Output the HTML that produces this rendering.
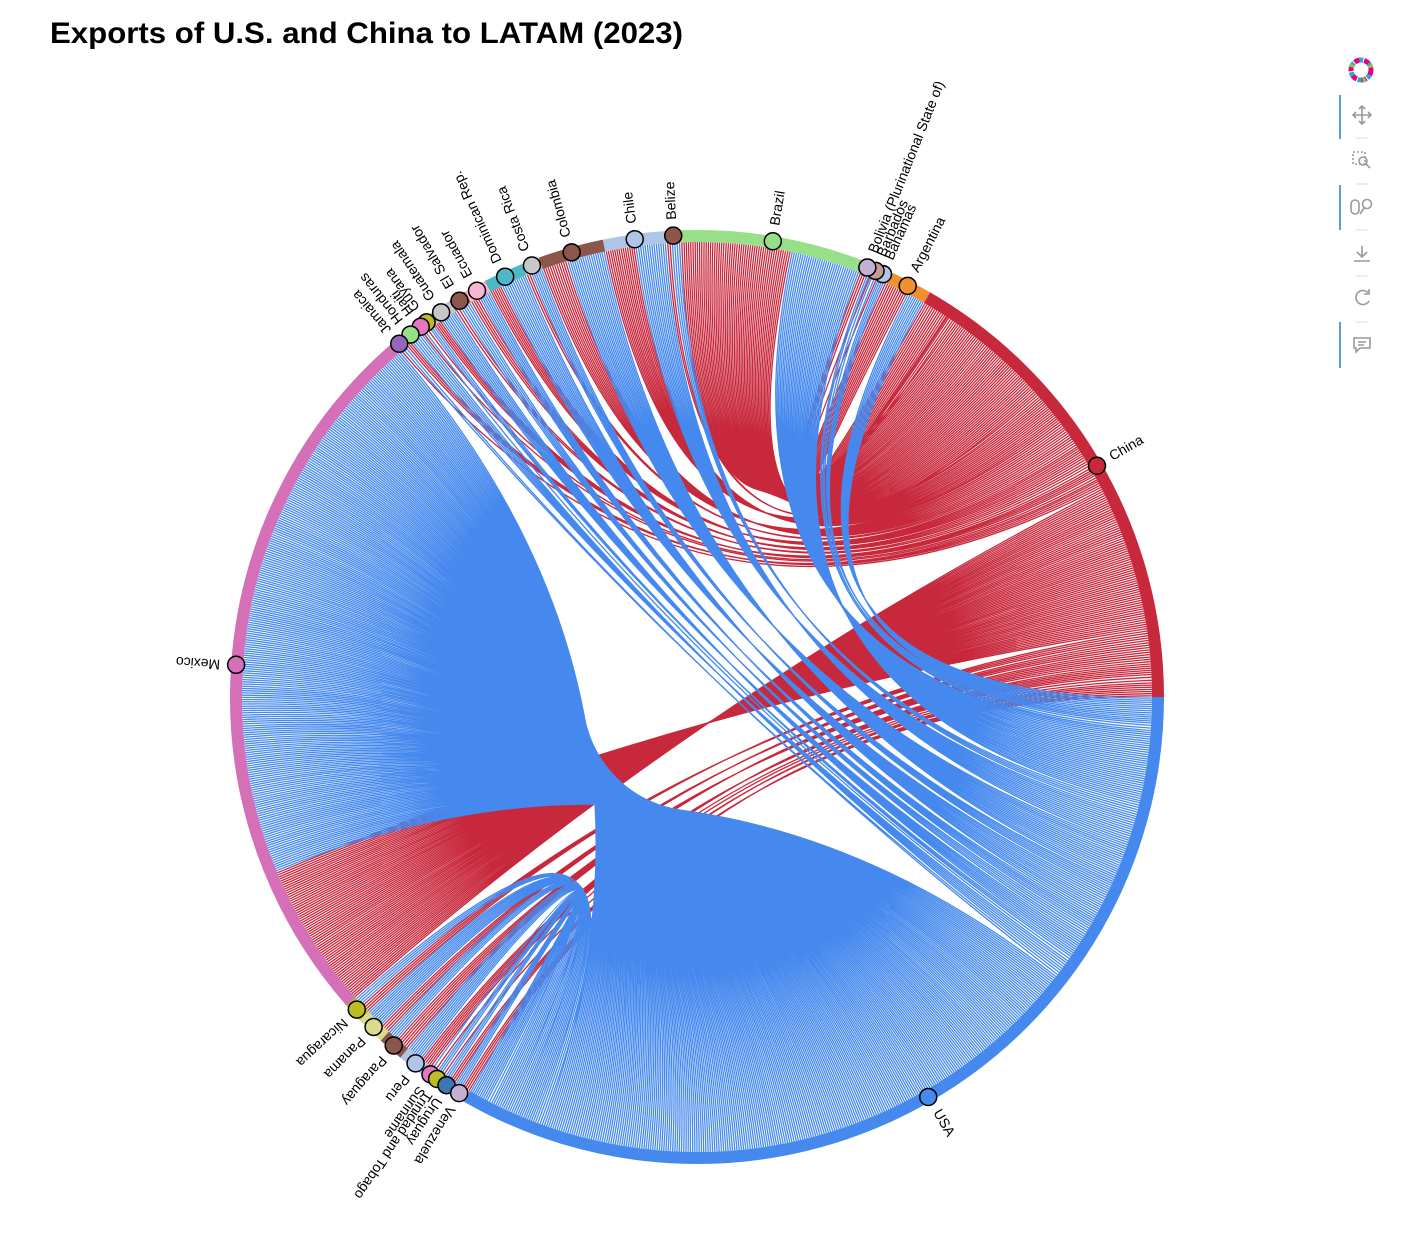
<!DOCTYPE html>
<html><head><meta charset="utf-8"><style>
body{margin:0;background:#fff;}
svg text{font-family:"Liberation Sans",sans-serif;}
</style></head><body>
<svg id="chart" width="1420" height="1232" viewBox="0 0 1420 1232" xmlns="http://www.w3.org/2000/svg">
<text x="50" y="43" font-size="30" font-weight="bold" fill="#000" textLength="633" lengthAdjust="spacingAndGlyphs">Exports of U.S. and China to LATAM (2023)</text>
<g id="edges"></g>
<g id="ring"></g>
<g id="nodes"></g>
<g id="labels"></g>
<g>
 <g>
  <circle cx="1361" cy="70" r="10" fill="none" stroke="#e6007e" stroke-width="5" stroke-dasharray="6 4"/>
  <circle cx="1361" cy="70" r="10" fill="none" stroke="#2ea3e0" stroke-width="5" stroke-dasharray="4 6" stroke-dashoffset="5"/>
  <circle cx="1361" cy="70" r="10" fill="none" stroke="#8ec63f" stroke-width="5" stroke-dasharray="3 20" stroke-dashoffset="12"/>
 </g>
 <rect x="1339" y="95" width="2" height="44" fill="#5a9fd4"/>
 <g stroke="#999" stroke-width="1.6" fill="none"><path d="M1362 106v18M1353 115h18M1359 109l3-3 3 3M1359 121l3 3 3-3M1356 112l-3 3 3 3M1368 112l3 3-3 3"/></g>
 <line x1="1356" y1="138" x2="1368" y2="138" stroke="#ddd"/>
 <g stroke="#999" stroke-width="1.6" fill="none"><rect x="1353" y="152" width="12" height="12" stroke-dasharray="2 2"/><circle cx="1363" cy="161" r="4"/><path d="M1366 164l4 4"/></g>
 <line x1="1356" y1="184" x2="1368" y2="184" stroke="#ddd"/>
 <rect x="1339" y="185" width="2" height="45" fill="#5a9fd4"/>
 <g stroke="#999" stroke-width="1.6" fill="none"><rect x="1351" y="200" width="8" height="14" rx="4"/><circle cx="1367" cy="204" r="4.5"/><path d="M1364 208l-4 6"/></g>
 <line x1="1356" y1="230" x2="1368" y2="230" stroke="#ddd"/>
 <g stroke="#999" stroke-width="1.6" fill="none"><path d="M1362 246v11M1357 252l5 5 5-5M1354 261h16"/></g>
 <line x1="1356" y1="276" x2="1368" y2="276" stroke="#ddd"/>
 <g stroke="#999" stroke-width="1.6" fill="none"><path d="M1369 294a7 7 0 1 0 0 7M1369 289v5h-5"/></g>
 <line x1="1356" y1="322" x2="1368" y2="322" stroke="#ddd"/>
 <rect x="1339" y="322" width="2" height="46" fill="#5a9fd4"/>
 <g stroke="#999" stroke-width="1.6" fill="none"><path d="M1354 338h16v10h-10l-4 4v-4h-2z"/><path d="M1358 342h8M1358 345h6"/></g>
</g>
</svg>
<script>
const countries=["Argentina","Bahamas","Barbados","Bolivia (Plurinational State of)","Brazil","Belize","Chile","Colombia","Costa Rica","Dominican Rep.","Ecuador","El Salvador","Guatemala","Guyana","Haiti","Honduras","Jamaica","Mexico","Nicaragua","Panama","Paraguay","Peru","Suriname","Trinidad and Tobago","Uruguay","Venezuela"];
const usExports=[2.4,1.0,0.7,0.5,9.0,1.2,4.0,5.0,1.6,3.4,1.6,1.5,2.2,0.8,0.4,1.8,0.7,72.0,1.2,2.4,1.4,2.2,0.4,0.8,0.8,1.0];
const chinaExports=[3.2,0.2,0.1,0.9,14.0,0.6,3.8,3.2,0.6,1.6,1.2,0.7,1.0,0.4,0.2,0.8,0.3,18.8,1.2,1.2,1.8,1.6,0.4,0.4,0.8,1.1];
const countryColors=["#f0912f","#aec7e8","#c49c94","#c5b0d5","#98df8a","#8c564b","#aec7e8","#8c564b","#c7c7c7","#4fb8c6","#f7b6d2","#8c564b","#c7c7c7","#bcbd22","#e377c2","#98df8a","#9467bd","#d46fb8","#bcbd22","#dbdb8d","#8c564b","#aec7e8","#e377c2","#bcbd22","#3a78b0","#c5b0d5"];
const chinaColor="#c8283c", usColor="#4589ee";

const NS="http://www.w3.org/2000/svg";
const cx=697, cy=697, rLine=455, rRing=461, rNode=462, rLabel=478;
const total=usExports.reduce((a,b)=>a+b,0)+chinaExports.reduce((a,b)=>a+b,0);
const degPer=360/(2*total);
const rad=d=>d*Math.PI/180;
const pt=(a,r)=>[cx+r*Math.cos(rad(a)), cy-r*Math.sin(rad(a))];
function mk(tag,attrs,parent){const e=document.createElementNS(NS,tag);for(const k in attrs)e.setAttribute(k,attrs[k]);parent.appendChild(e);return e;}

const chinaTotal=chinaExports.reduce((a,b)=>a+b,0), usTotal=usExports.reduce((a,b)=>a+b,0);
const nodes=[];
let a=0;
nodes.push({name:"China",color:chinaColor,a0:a,a1:a+chinaTotal*degPer});a+=chinaTotal*degPer;
countries.forEach((c,i)=>{const s=(usExports[i]+chinaExports[i])*degPer;nodes.push({name:c,color:countryColors[i],a0:a,a1:a+s,idx:i});a+=s;});
nodes.push({name:"USA",color:usColor,a0:a,a1:a+usTotal*degPer});

const edgesG=document.getElementById('edges'), ringG=document.getElementById('ring'), nodesG=document.getElementById('nodes'), labelsG=document.getElementById('labels');
const chinaNode=nodes[0], usNode=nodes[nodes.length-1];

function drawEdge(srcNode,srcStart,vals,color,isUS,key){
  let s=srcStart;
  for(let i=countries.length-1;i>=0;i--){
    const v=vals[i]*degPer; if(v<=0) continue;
    const tn=nodes[i+1];
    const usSpan=usExports[i]*degPer;
    const t0=isUS?tn.a0:tn.a0+usSpan, t1=isUS?tn.a0+usSpan:tn.a1;
    const s0=s, s1=s+v; s=s1;
    const n=Math.max(1,Math.round(v/0.28));
    let d="";
    for(let k=0;k<n;k++){
      const f=(k+0.5)/n;
      const p0=pt(s0+f*(s1-s0),rLine), p2=pt(t0+f*(t1-t0),rLine);
      d+=`M${p0[0].toFixed(1)} ${p0[1].toFixed(1)}Q${cx} ${cy} ${p2[0].toFixed(1)} ${p2[1].toFixed(1)}`;
    }
    const p=mk('path',{d:d,fill:'none',stroke:color,'stroke-width':1.3},edgesG);
    
    
  }
}
drawEdge(chinaNode,chinaNode.a0,chinaExports,chinaColor,false,'china');
drawEdge(usNode,usNode.a0,usExports,usColor,true,'usa');

nodes.forEach(nd=>{
  const slug=nd.name.toLowerCase().replace(/[^a-z]+/g,'-').replace(/-$/,'');
  const p0=pt(nd.a0,rRing), p1=pt(nd.a1,rRing);
  const large=(nd.a1-nd.a0)>180?1:0;
  const arc=mk('path',{d:`M${p0[0]} ${p0[1]}A${rRing} ${rRing} 0 ${large} 0 ${p1[0]} ${p1[1]}`,fill:'none',stroke:nd.color,'stroke-width':12},ringG);
  
  
  const m=(nd.a0+nd.a1)/2;
  const c=pt(m,rNode);
  const circ=mk('circle',{cx:c[0],cy:c[1],r:8.5,fill:nd.color,stroke:'#000','stroke-width':1.5},nodesG);
  
  
  const l=pt(m,rLabel);
  const t=mk('text',{x:l[0],y:l[1],'font-size':14,fill:'#000','dominant-baseline':'middle',transform:`rotate(${-m} ${l[0]} ${l[1]})`},labelsG);
  t.textContent=nd.name;
  
  
});
</script>
</body></html>
